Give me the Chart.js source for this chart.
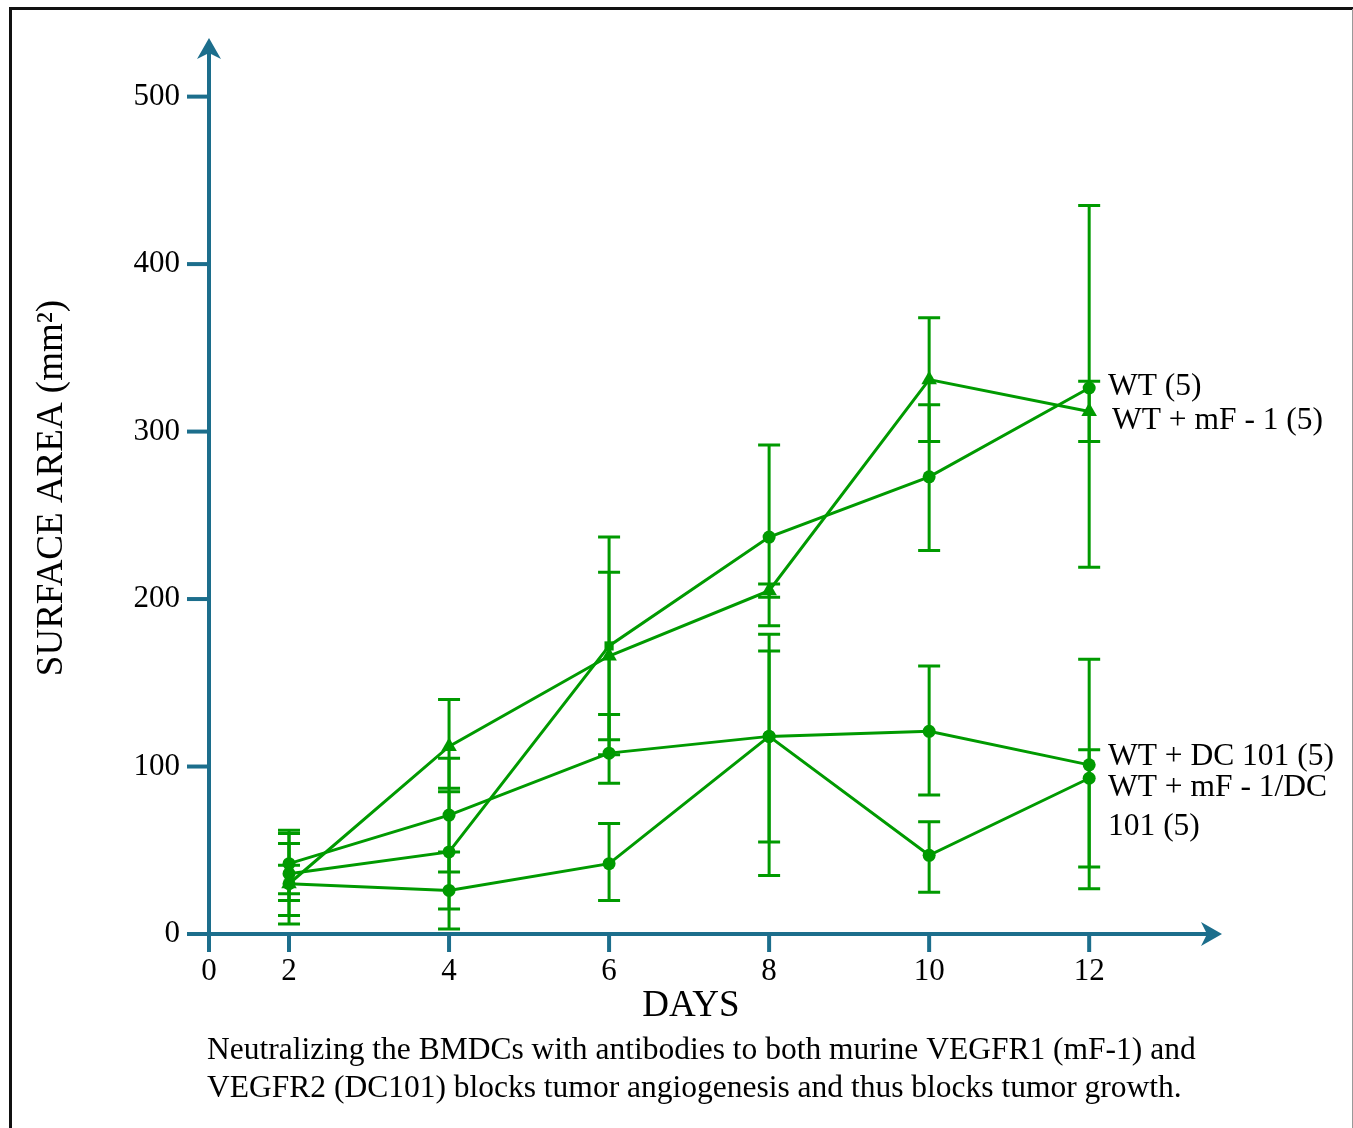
<!DOCTYPE html>
<html>
<head>
<meta charset="utf-8">
<title>Tumor surface area</title>
<script src="https://cdn.jsdelivr.net/npm/chart.js@4.4.1/dist/chart.umd.min.js"></script>
<style>
    body { margin: 0; background: #fff; }
    #wrap { position: relative; width: 1353px; height: 1128px; }
</style>
</head>
<body>
<div id="wrap"><canvas id="tumorChart" width="1353" height="1128"></canvas></div>
<script>
// Data //
var days = [2, 4, 6, 8, 10, 12];

var wtMean = [36, 49, 172, 237, 273, 326];
var wtLow  = [11, 15, 107, 184, 229, 219];
var wtHigh = [62, 85, 237, 292, 316, 435];

var mfMean = [30, 112, 166, 205, 331, 312];
var mfLow  = [6, 87, 116, 201, 294, 294];
var mfHigh = [54, 140, 216, 209, 368, 330];

var dcMean = [42, 71, 108, 118, 121, 101];
var dcLow  = [24, 37, 90, 55, 83, 40];
var dcHigh = [60, 105, 131, 179, 160, 164];

var mfdcMean = [30, 26, 42, 118, 47, 93];
var mfdcLow  = [20, 3, 20, 35, 25, 27];
var mfdcHigh = [41, 49, 66, 169, 67, 110];

var xTicks = [1, 2, 4, 6, 8, 10, 12];
var xTickLabels = ['0', '2', '4', '6', '8', '10', '12'];
var yTicks = [0, 100, 200, 300, 400, 500];

var seriesLabels = ['WT (5)', 'WT + mF - 1 (5)', 'WT + DC 101 (5)', 'WT + mF - 1/DC', '101 (5)'];
var captionLines = [
    'Neutralizing the BMDCs with antibodies to both murine VEGFR1 (mF-1) and',
    'VEGFR2 (DC101) blocks tumor angiogenesis and thus blocks tumor growth.'
];

var green = '#009a00';
var axisColor = '#1c6e8c';
var serif = '"Liberation Serif", "DejaVu Serif", serif';

function points(values) {
    return days.map(function (d, i) { return { x: d, y: values[i] }; });
}

function lineSet(label, values, low, high, style, radius) {
    return {
        label: label,
        data: points(values),
        errLow: low,
        errHigh: high,
        showLine: true,
        borderColor: green,
        backgroundColor: green,
        borderWidth: 3,
        pointStyle: style,
        pointRadius: radius,
        pointBorderWidth: 0,
        clip: false,
    };
}

// Axes, error bars and text //
var extras = {
    id: 'extras',
    beforeDatasetsDraw: function (chart) {
        var ctx = chart.ctx;
        var xs = chart.scales.x, ys = chart.scales.y;
        var x0 = xs.getPixelForValue(xs.min);
        var y0 = ys.getPixelForValue(0);
        var xEnd = chart.chartArea.right;
        var yEnd = chart.chartArea.top;

        ctx.save();
        ctx.strokeStyle = axisColor;
        ctx.fillStyle = axisColor;
        ctx.lineWidth = 4;

        // y axis + arrow
        ctx.beginPath();
        ctx.moveTo(x0, y0 + 18);
        ctx.lineTo(x0, yEnd + 14);
        ctx.stroke();
        ctx.beginPath();
        ctx.moveTo(x0, yEnd);
        ctx.lineTo(x0 + 12, yEnd + 21);
        ctx.lineTo(x0, yEnd + 15);
        ctx.lineTo(x0 - 12, yEnd + 21);
        ctx.closePath();
        ctx.fill();

        // x axis + arrow
        ctx.beginPath();
        ctx.moveTo(x0 - 22, y0);
        ctx.lineTo(xEnd - 14, y0);
        ctx.stroke();
        ctx.beginPath();
        ctx.moveTo(xEnd, y0);
        ctx.lineTo(xEnd - 21, y0 - 12);
        ctx.lineTo(xEnd - 15, y0);
        ctx.lineTo(xEnd - 21, y0 + 12);
        ctx.closePath();
        ctx.fill();

        // y ticks
        ctx.font = '31px ' + serif;
        ctx.fillStyle = '#000';
        ctx.textAlign = 'right';
        ctx.textBaseline = 'middle';
        yTicks.forEach(function (v) {
            var py = ys.getPixelForValue(v);
            ctx.beginPath();
            ctx.moveTo(x0 - 22, py);
            ctx.lineTo(x0, py);
            ctx.stroke();
            ctx.fillText(String(v), x0 - 29, py);
        });

        // x ticks
        ctx.textAlign = 'center';
        xTicks.forEach(function (v, i) {
            var px = xs.getPixelForValue(v);
            ctx.beginPath();
            ctx.moveTo(px, y0);
            ctx.lineTo(px, y0 + 18);
            ctx.stroke();
            ctx.fillText(xTickLabels[i], px, y0 + 38);
        });

        // axis titles
        ctx.font = '37px ' + serif;
        ctx.fillText('DAYS', 691, 1006);
        ctx.save();
        ctx.translate(52, 488);
        ctx.rotate(-Math.PI / 2);
        ctx.fillText('SURFACE AREA (mm\u00B2)', 0, 0);
        ctx.restore();

        // error bars
        ctx.strokeStyle = green;
        ctx.lineWidth = 3;
        chart.data.datasets.forEach(function (ds) {
            ds.data.forEach(function (p, i) {
                var px = xs.getPixelForValue(p.x);
                var lo = ys.getPixelForValue(ds.errLow[i]);
                var hi = ys.getPixelForValue(ds.errHigh[i]);
                ctx.beginPath();
                ctx.moveTo(px, lo);
                ctx.lineTo(px, hi);
                ctx.moveTo(px - 11, lo);
                ctx.lineTo(px + 11, lo);
                ctx.moveTo(px - 11, hi);
                ctx.lineTo(px + 11, hi);
                ctx.stroke();
            });
        });
        ctx.restore();
    },
    afterDraw: function (chart) {
        var ctx = chart.ctx;
        ctx.save();
        ctx.fillStyle = '#000';
        ctx.font = '31.5px ' + serif;
        ctx.textAlign = 'left';
        ctx.textBaseline = 'middle';
        ctx.fillText(seriesLabels[0], 1108, 387);
        ctx.fillText(seriesLabels[1], 1112, 421);
        ctx.fillText(seriesLabels[2], 1108, 757);
        ctx.fillText(seriesLabels[3], 1108, 788);
        ctx.fillText(seriesLabels[4], 1108, 827);

        ctx.fillText(captionLines[0], 207, 1051);
        ctx.fillText(captionLines[1], 207, 1089);

        // frame
        ctx.fillStyle = '#111';
        ctx.fillRect(9, 7, 1344, 3);
        ctx.fillRect(9, 7, 3, 1121);
        ctx.fillStyle = '#999';
        ctx.fillRect(1352, 9, 1, 1119);
        ctx.restore();
    }
};

var ctx = document.getElementById('tumorChart').getContext('2d');
var tumorChart = new Chart(ctx, {
    type: 'scatter',
    data: {
        datasets: [
            lineSet('WT (5)', wtMean, wtLow, wtHigh, ['circle', 'circle', 'rect', 'circle', 'circle', 'circle'], 6.5),
            lineSet('WT + mF - 1 (5)', mfMean, mfLow, mfHigh, 'triangle', 9),
            lineSet('WT + DC 101 (5)', dcMean, dcLow, dcHigh, 'circle', 6.5),
            lineSet('WT + mF - 1/DC 101 (5)', mfdcMean, mfdcLow, mfdcHigh, 'circle', 6.5),
        ],
    },
    options: {
        responsive: false,
        animation: false,
        events: [],
        layout: {
            padding: { left: 209, right: 131, top: 38, bottom: 194 }
        },
        scales: {
            x: { type: 'linear', min: 1, max: 13.66, display: false },
            y: { type: 'linear', min: 0, max: 535, display: false },
        },
        plugins: {
            legend: { display: false },
            tooltip: { enabled: false },
        }
    },
    plugins: [extras]
});
</script>
</body>
</html>
